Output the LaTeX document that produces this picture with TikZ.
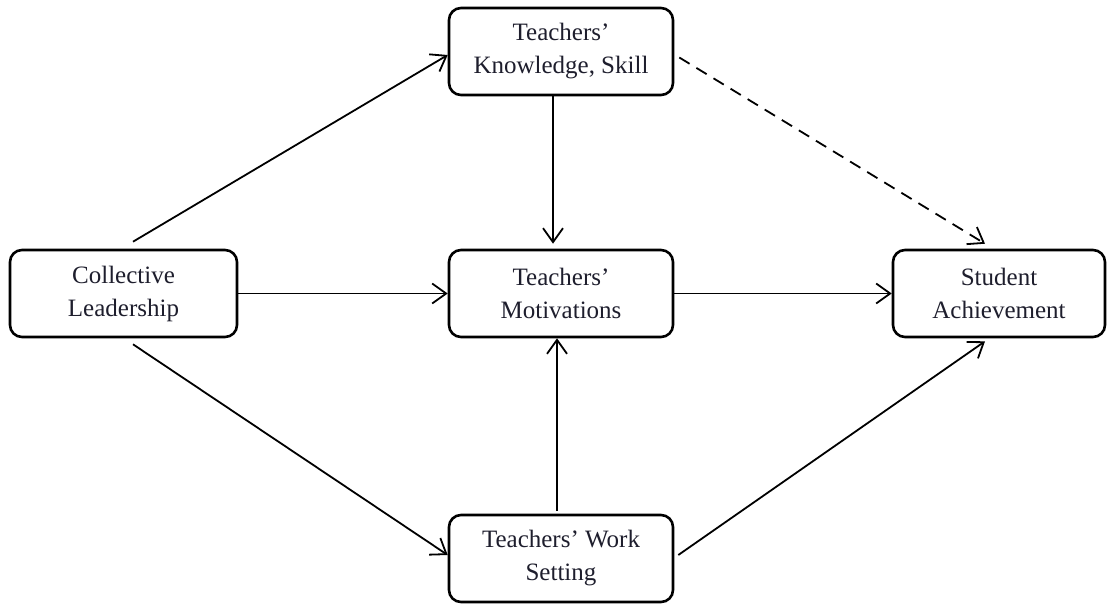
\documentclass[tikz,border=0pt]{standalone}
\usepackage{fontspec}
\setmainfont{Liberation Serif}
\usetikzlibrary{arrows.meta}
\definecolor{inkc}{RGB}{30,30,45}

\begin{document}
\begin{tikzpicture}[x=0.5pt, y=-0.5pt,
    box/.style={draw, line width=1.3pt, rounded corners=6pt, minimum width=112pt,
      minimum height=43.5pt, align=center, text=inkc,
      font=\fontsize{12.5}{16.5}\selectfont},
    arr/.style={line width=0.9pt, -{Straight Barb[length=7pt, width=10pt, line width=0.9pt]}}]
  \useasboundingbox (0,0) rectangle (1113,611);
  \node[box] (know) at (561,51.5) {Teachers'\\Knowledge, Skill};
  \node[box, minimum width=113.5pt] (coll) at (123.5,293.5) {Collective\\Leadership};
  \node[box] (motiv) at (561,293.5) {Teachers'\\Motivations};
  \node[box, minimum width=106pt] (stud) at (999,293.5) {Student\\Achievement};
  \node[box] (work) at (561,558.5) {Teachers' Work\\Setting};
  % links
  \draw[arr] ([xshift=4.75pt, yshift=3.5pt]coll.north) -- ([yshift=-1.75pt]know.west);
  \draw[arr] ([xshift=-4pt]know.south) -- ([xshift=-4pt, yshift=2.5pt]motiv.north);
  \draw[arr, dashed, dash pattern=on 6pt off 4pt] ([xshift=2.5pt, yshift=-3pt]know.east) -- ([xshift=-7pt, yshift=2.5pt]stud.north);
  \draw[arr] (coll.east) -- (motiv.west);
  \draw[arr] (motiv.east) -- (stud.west);
  \draw[arr] ([xshift=4.75pt, yshift=-3pt]coll.south) -- ([yshift=1.75pt]work.west);
  \draw[arr] ([xshift=-2pt, yshift=1.5pt]work.north) -- ([xshift=-2pt]motiv.south);
  \draw[arr] ([xshift=2pt, yshift=1.75pt]work.east) -- ([xshift=-7pt, yshift=-1.5pt]stud.south);
\end{tikzpicture}
\end{document}
